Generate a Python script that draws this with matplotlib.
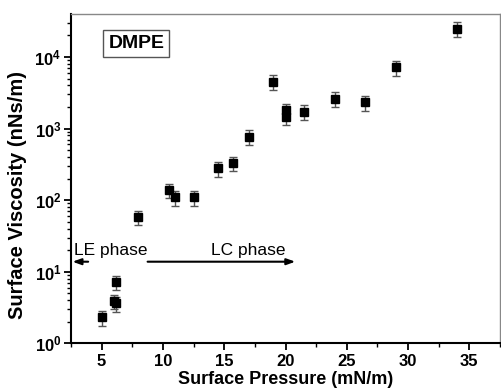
import matplotlib
matplotlib.use("Agg")
import matplotlib.pyplot as plt
from matplotlib.ticker import LogLocator, LogFormatterMathtext, MultipleLocator, NullFormatter

# Data
pressure = [5.0, 6.0, 6.2, 6.2, 8.0, 10.5, 11.0, 12.5, 14.5, 15.7, 17.0,
            19.0, 20.0, 20.0, 21.5, 24.0, 26.5, 29.0, 34.0]
viscosity = [2.3, 3.9, 3.6, 7.1, 58, 138, 110, 109, 278, 327, 770,
             4500, 1800, 1450, 1720, 2600, 2320, 7160, 24800]
viscosity_err = [0.55, 0.9, 0.85, 1.6, 13, 32, 26, 26, 65, 75, 180,
                 1050, 420, 340, 400, 600, 550, 1700, 5900]

x_ticks = [5, 10, 15, 20, 25, 30, 35]
x_label = "Surface Pressure (mN/m)"
y_label = "Surface Viscosity (nNs/m)"
box_label = "DMPE"
le_label = "LE phase"
lc_label = "LC phase"

plt.rcParams['font.family'] = ['Liberation Sans', 'DejaVu Sans']
plt.rcParams['font.weight'] = 'bold'
plt.rcParams['mathtext.fontset'] = 'custom'
plt.rcParams['mathtext.rm'] = 'Liberation Sans:bold'
plt.rcParams['mathtext.bf'] = 'Liberation Sans:bold'
plt.rcParams['mathtext.it'] = 'Liberation Sans:bold'

fig = plt.figure(figsize=(5.01, 3.91), dpi=100)
ax = fig.add_axes([71/501, (391-343.3)/391, (500-71)/501, (343.3-14)/391])

ax.errorbar(pressure, viscosity, yerr=viscosity_err, fmt='s', color='black',
            markersize=6, ecolor='#555555', elinewidth=1.0, capsize=3,
            capthick=1.0, zorder=3)

ax.set_yscale('log')
ax.set_xlim(2.5, 37.5)
ax.set_ylim(1, 10**4.6)

ax.xaxis.set_major_locator(MultipleLocator(5))
ax.xaxis.set_minor_locator(MultipleLocator(2.5))
ax.set_xticks(x_ticks)
ax.yaxis.set_major_locator(LogLocator(base=10, numticks=10))
ax.yaxis.set_major_formatter(LogFormatterMathtext())
ax.yaxis.set_minor_locator(LogLocator(base=10, subs=range(2, 10), numticks=20))
ax.yaxis.set_minor_formatter(NullFormatter())

ax.tick_params(axis='both', which='major', direction='out', length=5, width=1.3,
               labelsize=12, color='black')
ax.tick_params(axis='both', which='minor', direction='out', length=3, width=1.0,
               color='black')
ax.tick_params(axis='x', which='major', pad=3)
ax.tick_params(axis='y', which='major', pad=2)

for side in ['left', 'bottom']:
    ax.spines[side].set_color('black')
    ax.spines[side].set_linewidth(1.5)
for side in ['top', 'right']:
    ax.spines[side].set_color('#888888')
    ax.spines[side].set_linewidth(1.0)

ax.set_xlabel(x_label, fontsize=13, fontweight='bold', labelpad=1)
ax.set_ylabel(y_label, fontsize=14.5, fontweight='bold')
ax.yaxis.set_label_coords(-0.103, 0.45)

ax.text(0.087, 0.91, box_label, transform=ax.transAxes, fontsize=14,
        fontweight='bold', ha='left', va='center',
        bbox=dict(boxstyle='square,pad=0.25', facecolor='white',
                  edgecolor='#555555', linewidth=1.0))

arrow_y = 13.8
ax.annotate('', xy=(2.62, arrow_y), xytext=(3.9, arrow_y),
            arrowprops=dict(arrowstyle='-|>,head_length=0.5,head_width=0.18',
                            color='black', lw=1.5, shrinkA=0, shrinkB=0))
ax.annotate('', xy=(20.8, arrow_y), xytext=(8.75, arrow_y),
            arrowprops=dict(arrowstyle='-|>,head_length=0.5,head_width=0.18',
                            color='black', lw=1.5, shrinkA=0, shrinkB=0))
ax.text(2.75, 17.0, le_label, fontsize=12.5, fontweight='normal',
        ha='left', va='baseline')
ax.text(13.9, 17.0, lc_label, fontsize=12.5, fontweight='normal',
        ha='left', va='baseline')

fig.savefig('out.png', dpi=100)
